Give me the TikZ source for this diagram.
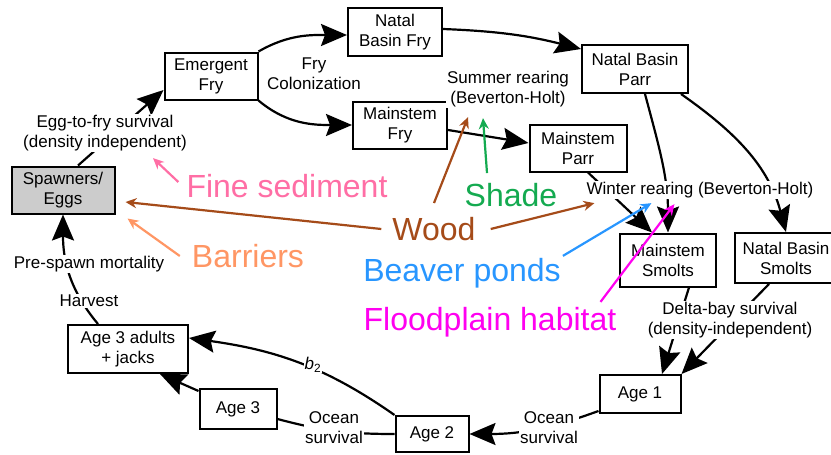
\documentclass[tikz,border=0pt]{standalone}
\usepackage{fontspec}
\setmainfont{Liberation Sans}
\usepackage{tikz}
\usetikzlibrary{
  arrows.meta,
  backgrounds,
  positioning
}
\definecolor{eggsgray}{RGB}{204,204,204}
\definecolor{finepink}{RGB}{255,110,165}
\definecolor{woodbrown}{RGB}{165,75,25}
\definecolor{shadegreen}{RGB}{20,170,80}
\definecolor{barrierorange}{RGB}{255,150,100}
\definecolor{beaverblue}{RGB}{40,150,255}
\definecolor{floodmagenta}{RGB}{255,0,240}
\tikzset{
  stage/.style={draw=black,line width=2pt,fill=white,align=center,
    inner sep=0pt,minimum height=47pt,font=\fontsize{17}{20}\selectfont},
  eggbox/.style={stage,fill=eggsgray},
  lab/.style={fill=white,inner sep=1pt,align=center,
    font=\fontsize{17}{20}\selectfont},
  driver/.style={inner sep=2pt,font=\fontsize{32}{36}\selectfont},
  flow/.style={-{Stealth[length=26pt,width=22pt,inset=4pt]},line width=2.2pt},
  link/.style={line width=2.2pt},
  effect/.style={-{Stealth[length=11pt,width=10pt]},line width=2.2pt}
}

\begin{document}
\begin{tikzpicture}[x=1pt,y=-1pt]
  \useasboundingbox (0,0) rectangle (831,455);
  % life stages
  \node[eggbox,minimum width=103pt] (spawn) at (63,190) {Spawners/\\Eggs};
  \node[stage,minimum width=93pt] (emerg) at (211,76) {Emergent\\Fry};
  \node[stage,minimum width=94pt,minimum height=48pt] (nbfry) at (395,32) {Natal\\Basin Fry};
  \node[stage,minimum width=94pt] (msfry) at (400,125) {Mainstem\\Fry};
  \node[stage,minimum width=106pt,minimum height=48pt] (nbparr) at (635,69) {Natal Basin\\Parr};
  \node[stage,minimum width=97pt] (msparr) at (578,148) {Mainstem\\Parr};
  \node[stage,minimum width=96pt,minimum height=53pt] (mssmolt) at (668,260) {Mainstem\\Smolts};
  \node[stage,minimum width=102pt,minimum height=50pt] (nbsmolt) at (786,258) {Natal Basin\\Smolts};
  \node[stage,minimum width=81pt,minimum height=38pt] (age1) at (640,394) {Age 1};
  \node[stage,minimum width=73pt,minimum height=36pt] (age2) at (432,434) {Age 2};
  \node[stage,minimum width=77pt,minimum height=40pt] (age3) at (238,409) {Age 3};
  \node[stage,minimum width=120pt,minimum height=48pt] (adults) at (128,349) {Age 3 adults\\+ jacks};
  % transition labels
  \node[lab] (eggfry) at (105,133) {Egg-to-fry survival\\(density independent)};
  \node[lab] (frycol) at (314,74) {Fry\\Colonization};
  \node[lab] (summer) at (508,89) {Summer rearing\\(Beverton-Holt)};
  \node[lab] (winter) at (700,190) {Winter rearing (Beverton-Holt)};
  \node[lab] (delta) at (730,320) {Delta-bay survival\\(density-independent)};
  \node[lab] (oceanright) at (549,428) {Ocean\\survival};
  \node[lab] (oceanleft) at (334,428) {Ocean\\survival};
  \node[lab] (btwo) at (313,365) {\textit{b}\textsubscript{2}};
  \node[lab] (harvest) at (89,301) {Harvest};
  \node[lab] (prespawn) at (89,264) {Pre-spawn mortality};
  % habitat drivers
  \node[driver,text=finepink] (fine) at (287,186) {Fine sediment};
  \node[driver,text=woodbrown] (wood) at (434,229) {Wood};
  \node[driver,text=shadegreen] (shade) at (511,195) {Shade};
  \node[driver,text=barrierorange] (barriers) at (248,256) {Barriers};
  \node[driver,text=beaverblue] (beaver) at (462,273) {Beaver ponds};
  \node[driver,text=floodmagenta] (flood) at (490,322) {Floodplain habitat};
  % life cycle transitions
  \begin{scope}[on background layer]
    \draw[flow] ([xshift=15pt]spawn.north) -- ([yshift=-14pt]emerg.west);
    \draw[flow] (emerg.north east) to[out=30,in=180] ([yshift=-3pt]nbfry.west);
    \draw[flow] (emerg.south east) to[out=-40,in=180] (msfry.west);
    \draw[flow] ([yshift=3pt]nbfry.east) to[bend left=6] ([yshift=-5pt]nbparr.north west);
    \draw[flow] ([yshift=-5pt]msfry.east) -- ([yshift=5pt]msparr.west);
    \draw[flow] ([xshift=10pt]nbparr.south) to[out=-75,in=90] (mssmolt.north);
    \draw[flow] ([xshift=-8pt]nbparr.south east) to[out=-35,in=105] (nbsmolt.north);
    \draw[flow] ([xshift=10pt]msparr.south) -- ([xshift=-16pt]mssmolt.north);
    \draw[flow] ([xshift=21pt]mssmolt.south) -- ([xshift=22pt]age1.north);
    \draw[flow] ([xshift=-17pt]nbsmolt.south) -- (age1.north east);
    \draw[flow] ([yshift=3pt]age1.south west) to[out=200,in=0] (age2.east);
    \draw[flow] (age2.north west) to[out=145,in=-8] ([yshift=11pt]adults.east);
    \draw[link] (age2.west) to[out=180,in=-15] ([yshift=-10pt]age3.east);
    \draw[flow] ([yshift=-3pt]age3.north west) -- ([xshift=32pt]adults.south);
    \draw[flow] ([xshift=-30pt]adults.north) to[out=130,in=-90] (spawn.south);
  \end{scope}
  % habitat effects
  \draw[effect,finepink] ([xshift=-6pt,yshift=4pt]fine.west) -- ([xshift=48pt,yshift=-6pt]eggfry.south);
  \draw[effect,woodbrown] ([xshift=-9pt]wood.west) -- ([xshift=10pt,yshift=-12pt]spawn.east);
  \draw[effect,woodbrown] ([yshift=12pt]wood.north) -- ([xshift=-40pt,yshift=-9pt]summer.south);
  \draw[effect,woodbrown] ([xshift=13pt]wood.east) -- ([xshift=9pt,yshift=-4pt]winter.south west);
  \draw[effect,shadegreen] ([xshift=-24pt,yshift=8pt]shade.north) -- ([xshift=-25pt,yshift=-10pt]summer.south);
  \draw[effect,barrierorange] ([xshift=-10pt]barriers.west) -- ([xshift=12pt,yshift=-4pt]spawn.south east);
  \draw[effect,beaverblue] (beaver.north east) -- ([xshift=66pt,yshift=-4pt]winter.south west);
  \draw[effect,floodmagenta] ([xshift=-18pt,yshift=3pt]flood.north east) -- ([xshift=89pt,yshift=-5pt]winter.south west);
\end{tikzpicture}
\end{document}
